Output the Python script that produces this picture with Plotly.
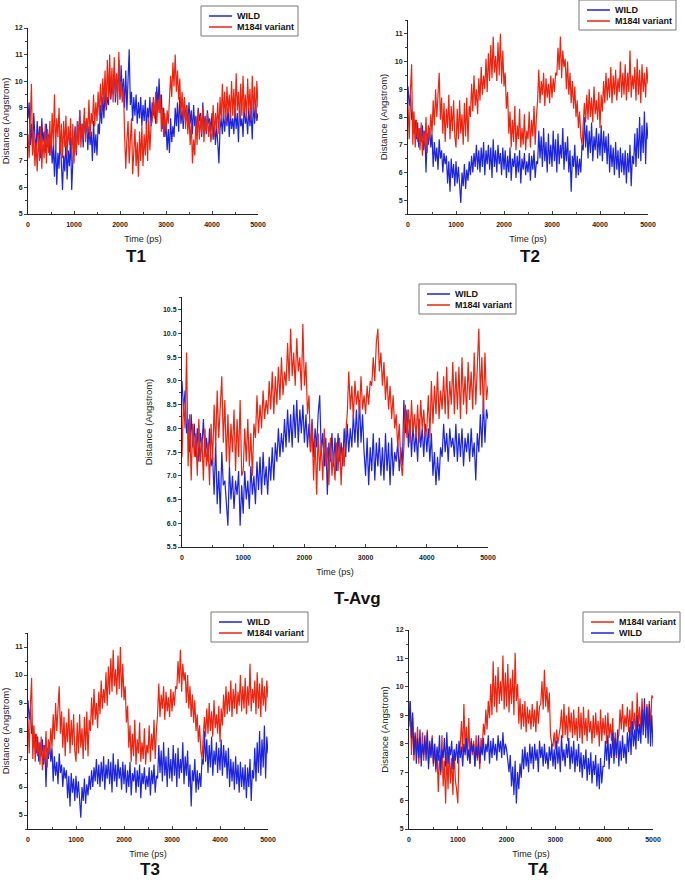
import plotly.graph_objects as go

# sampled every 25 ps, 0..5000
time_ps = list(range(0, 5001, 25))

t1_wild = [8.6, 9.2, 7.6, 8.4, 7.3, 8.8, 7.9, 7.4, 8.5, 7.6, 8.3, 7.1, 8.6, 7.7, 8.1, 7.3, 8.4, 7.5, 8.0, 7.2,
           7.9, 6.9, 7.6, 6.4, 7.8, 6.1, 7.3, 6.7, 8.0, 6.5, 5.9, 7.2, 6.6, 7.8, 6.3, 7.4, 6.8, 7.9, 5.9, 7.0,
           7.7, 8.3, 7.2, 8.5, 7.6, 8.9, 7.8, 8.4, 7.5, 8.7, 8.0, 8.6, 7.4, 8.3, 7.6, 8.1, 7.0, 8.5, 7.3, 8.0,
           7.2, 8.4, 8.0, 9.1, 8.4, 9.4, 8.6, 9.7, 8.9, 9.4, 9.1, 10.2, 9.3, 9.9, 9.5, 10.5, 9.2, 10.1, 9.6, 10.8,
           9.3, 10.6, 9.4, 10.1, 9.0, 10.4, 8.9, 9.8, 11.2, 9.1, 9.6, 8.5, 9.4, 8.7, 9.5, 8.4, 9.2, 8.6, 9.4, 8.3,
           9.1, 8.5, 9.3, 8.2, 9.0, 8.6, 9.4, 8.3, 9.2, 8.7, 9.0, 8.4, 9.8, 9.0, 10.1, 8.8, 9.5, 8.2, 9.0, 7.9,
           8.4, 7.4, 8.2, 7.3, 8.6, 7.7, 8.3, 7.9, 9.0, 8.3, 9.2, 8.1, 9.4, 8.4, 8.9, 8.2, 9.3, 8.5, 9.1, 8.3,
           9.2, 8.4, 8.9, 8.0, 9.1, 8.3, 8.7, 8.1, 9.0, 8.5, 8.8, 7.9, 9.2, 8.2, 8.7, 8.0, 8.9, 8.4, 8.6, 8.1,
           8.8, 7.8, 8.5, 7.6, 8.3, 7.7, 6.9, 8.2, 8.6, 8.0, 8.9, 8.1, 8.7, 8.3, 9.0, 7.9, 8.8, 8.2, 8.6, 8.0,
           9.0, 8.2, 8.8, 7.7, 9.1, 8.3, 8.6, 7.9, 9.2, 8.4, 8.7, 8.0, 9.0, 8.3, 8.9, 7.8, 9.3, 8.4, 9.1, 8.5,
           8.8]
t1_m184i = [8.0, 7.1, 8.6, 9.9, 7.2, 8.1, 6.8, 7.7, 6.6, 8.0, 7.0, 8.3, 6.7, 7.8, 7.1, 8.4, 6.9, 8.2, 7.3, 8.5,
            7.2, 8.8, 7.6, 9.5, 7.4, 8.6, 7.9, 9.0, 7.3, 8.4, 7.1, 8.5, 7.5, 8.7, 7.2, 8.3, 7.6, 8.6, 7.0, 8.4,
            6.9, 8.2, 7.3, 8.5, 7.6, 8.9, 7.5, 8.4, 7.8, 9.0, 7.7, 8.6, 8.1, 9.3, 7.9, 8.8, 8.4, 9.5, 8.3, 9.2,
            8.5, 9.6, 8.7, 9.9, 8.8, 10.1, 9.2, 10.4, 9.0, 10.8, 9.3, 11.0, 9.4, 10.5, 9.2, 10.9, 9.5, 10.3, 9.1, 11.1,
            9.4, 10.0, 9.2, 9.8, 8.0, 6.7, 7.8, 8.5, 6.9, 7.6, 8.6, 6.5, 7.4, 8.2, 6.8, 7.7, 6.4, 8.1, 7.0, 8.3,
            6.8, 8.0, 7.2, 8.4, 7.0, 8.6, 7.4, 8.3, 8.5, 9.4, 8.6, 9.6, 8.4, 9.3, 8.8, 9.5, 8.1, 9.0, 7.9, 8.8,
            8.1, 8.9, 8.4, 9.6, 10.2, 9.4, 10.7, 9.8, 11.0, 9.6, 10.4, 9.3, 10.1, 8.7, 9.6, 8.5, 9.4, 8.2, 9.1, 8.0,
            8.8, 7.6, 8.5, 6.9, 7.8, 7.2, 8.6, 7.6, 8.9, 7.8, 8.7, 8.0, 9.0, 7.7, 8.6, 8.1, 8.8, 7.9, 8.5, 7.7,
            8.1, 9.1, 7.9, 8.8, 8.2, 9.2, 8.0, 9.4, 8.5, 9.9, 8.6, 9.6, 8.4, 9.8, 8.8, 9.5, 8.6, 10.0, 8.7, 9.7,
            8.6, 10.3, 8.9, 9.6, 8.5, 9.9, 8.7, 10.2, 8.8, 9.5, 8.6, 10.1, 8.9, 9.7, 8.5, 10.2, 8.8, 9.8, 8.6, 10.0,
            9.0]

t2_wild = [9.1, 8.4, 8.8, 7.9, 8.2, 7.4, 7.9, 7.2, 7.8, 6.9, 7.6, 7.1, 7.7, 6.8, 7.5, 6.0, 7.4, 7.0, 7.6, 6.9,
           7.4, 6.2, 7.1, 6.4, 6.9, 6.1, 7.2, 6.5, 6.8, 6.0, 6.7, 6.3, 6.6, 5.6, 6.4, 5.3, 6.5, 5.8, 6.3, 5.5,
           6.4, 5.6, 6.2, 5.3, 4.9, 6.0, 5.5, 6.3, 5.4, 6.1, 5.7, 6.4, 5.9, 6.6, 6.0, 6.7, 6.2, 7.0, 6.1, 6.8,
           6.0, 6.9, 6.2, 7.1, 5.9, 6.8, 6.3, 7.0, 6.1, 6.9, 5.8, 7.2, 6.2, 6.8, 6.0, 7.0, 6.3, 6.7, 5.9, 6.9,
           6.1, 6.8, 5.8, 6.6, 6.0, 6.9, 5.7, 6.5, 6.2, 6.7, 5.8, 6.6, 6.0, 6.8, 5.6, 6.5, 6.1, 6.7, 5.9, 6.4,
           6.0, 6.7, 5.7, 6.6, 6.1, 6.8, 5.8, 6.4, 6.3, 7.5, 6.5, 7.3, 6.2, 7.6, 6.4, 7.1, 6.0, 7.4, 6.3, 7.0,
           6.2, 7.5, 6.4, 7.2, 6.0, 7.4, 6.3, 7.0, 6.5, 7.6, 6.1, 7.1, 6.4, 7.3, 6.0, 6.8, 5.3, 6.6, 6.2, 7.0,
           5.8, 6.6, 5.9, 6.5, 6.0, 7.0, 6.8, 8.0, 6.9, 7.7, 6.5, 7.5, 6.7, 7.8, 6.4, 7.3, 6.8, 7.6, 6.5, 7.4,
           6.6, 7.7, 6.4, 7.5, 6.7, 7.3, 6.3, 7.4, 6.0, 7.0, 6.2, 6.9, 5.9, 7.1, 6.1, 6.8, 5.8, 6.9, 6.0, 6.7,
           5.9, 6.8, 5.6, 6.7, 6.0, 7.0, 5.5, 6.6, 6.3, 7.4, 6.2, 7.6, 6.5, 8.0, 6.4, 7.7, 6.7, 8.2, 6.3, 7.8,
           7.2]
t2_m184i = [8.4, 7.2, 8.9, 9.9, 7.0, 8.2, 6.9, 7.9, 7.1, 7.6, 6.8, 7.8, 6.6, 7.5, 7.0, 8.0, 6.7, 7.7, 7.2, 8.1,
            7.4, 8.6, 7.7, 9.0, 8.0, 8.8, 9.6, 7.9, 8.7, 7.4, 8.5, 7.1, 8.3, 7.6, 8.8, 7.2, 8.4, 7.5, 8.6, 7.3,
            6.9, 8.3, 7.2, 8.6, 7.4, 8.1, 7.0, 8.5, 7.3, 8.7, 7.1, 8.4, 8.0, 9.2, 8.2, 9.5, 8.4, 9.0, 8.1, 9.4,
            8.6, 9.8, 8.8, 9.5, 9.0, 10.1, 8.9, 10.3, 9.3, 10.6, 9.4, 10.9, 9.6, 10.2, 9.3, 10.7, 9.5, 11.0, 9.2, 10.4,
            9.1, 9.6, 8.3, 8.9, 7.4, 8.2, 6.9, 7.9, 7.1, 8.4, 6.8, 7.7, 7.2, 8.3, 6.9, 7.6, 7.0, 8.1, 6.8, 7.5,
            7.2, 8.2, 6.9, 7.9, 7.3, 8.4, 7.0, 8.0, 8.6, 9.7, 8.5, 9.3, 8.8, 9.6, 8.4, 9.4, 8.7, 9.2, 8.5, 9.5,
            8.7, 9.4, 8.9, 9.6, 9.5, 10.5, 9.7, 10.9, 9.4, 10.4, 9.8, 10.1, 9.0, 10.0, 8.8, 9.6, 8.5, 9.3, 8.3, 9.1,
            8.0, 8.6, 7.6, 8.2, 7.3, 7.0, 7.6, 8.5, 7.8, 8.8, 7.9, 9.0, 8.0, 8.7, 7.8, 9.1, 8.1, 8.6, 7.9, 8.9,
            7.6, 8.8, 8.2, 9.3, 8.5, 9.6, 8.6, 9.4, 8.7, 9.8, 8.5, 9.5, 8.8, 9.7, 8.6, 9.4, 8.9, 10.0, 8.7, 9.6,
            8.8, 9.9, 8.6, 9.6, 8.9, 10.4, 8.7, 9.5, 9.0, 9.8, 8.6, 10.1, 8.8, 9.7, 8.5, 9.9, 8.9, 9.6, 8.7, 9.8,
            9.2]

tavg_wild = [9.0, 8.4, 8.8, 7.9, 8.2, 7.5, 8.3, 7.6, 8.1, 7.4, 8.0, 7.3, 7.9, 7.6, 8.2, 7.4, 7.8, 7.3, 8.0, 7.2,
             7.4, 6.6, 7.7, 6.4, 7.1, 6.2, 7.5, 6.8, 6.9, 6.4, 5.95, 7.2, 6.5, 7.0, 6.3, 6.9, 6.6, 7.1, 5.95, 6.8,
             6.2, 7.1, 6.5, 6.9, 6.3, 7.2, 6.6, 7.0, 6.4, 7.3, 6.7, 7.4, 6.6, 7.5, 6.8, 7.2, 6.6, 7.4, 6.9, 7.6,
             6.9, 7.7, 7.3, 8.0, 7.4, 7.9, 7.5, 8.2, 7.6, 8.4, 7.7, 8.3, 7.6, 8.5, 7.8, 8.6, 7.7, 8.4, 7.9, 8.5,
             7.7, 8.3, 7.6, 8.1, 7.5, 8.2, 7.4, 8.0, 7.6, 8.3, 8.7, 7.5, 7.9, 7.2, 7.8, 6.6, 7.7, 7.3, 7.9, 7.2,
             7.8, 7.1, 7.9, 7.3, 7.7, 7.2, 8.0, 7.4, 8.1, 7.5, 8.0, 7.6, 8.3, 7.7, 8.4, 7.6, 8.6, 7.7, 8.3, 7.5,
             7.0, 7.8, 6.8, 7.6, 7.1, 7.9, 6.9, 7.7, 7.2, 7.8, 7.0, 7.6, 6.9, 7.9, 7.1, 7.7, 6.8, 7.8, 7.0, 7.5,
             7.3, 7.7, 7.1, 7.6, 7.2, 8.6, 7.9, 8.4, 7.6, 8.2, 7.4, 8.1, 7.5, 7.9, 7.3, 8.2, 7.6, 8.0, 7.4, 8.1,
             7.5, 8.0, 7.3, 7.9, 7.0, 7.5, 6.8, 7.4, 6.9, 7.6, 7.4, 8.1, 7.5, 7.9, 7.3, 8.0, 7.6, 7.8, 7.4, 8.1,
             7.3, 7.9, 7.4, 8.0, 7.2, 7.8, 7.5, 7.9, 7.3, 8.0, 7.4, 7.7, 6.9, 7.9, 7.5, 8.3, 7.6, 8.6, 7.7, 8.4,
             8.2]
tavg_m184i = [7.4, 8.6, 8.0, 9.6, 7.2, 8.3, 6.9, 8.1, 7.4, 7.9, 7.0, 8.2, 7.3, 7.8, 6.9, 8.0, 7.2, 7.7, 6.8, 8.1,
              7.3, 8.5, 7.6, 8.8, 7.8, 8.4, 9.1, 7.7, 8.6, 7.3, 8.3, 7.2, 8.1, 7.5, 8.4, 7.1, 8.2, 7.4, 8.6, 7.0,
              7.1, 8.0, 7.3, 8.2, 7.2, 7.9, 7.0, 8.1, 7.8, 8.7, 7.9, 8.5, 8.0, 8.8, 8.2, 8.6, 8.3, 9.0, 8.4, 9.2,
              8.3, 9.1, 8.5, 9.3, 8.6, 9.5, 8.7, 9.2, 8.9, 9.8, 9.0, 10.1, 9.1, 9.6, 8.9, 9.9, 9.2, 9.5, 8.8, 10.2,
              8.9, 9.4, 8.3, 8.7, 7.5, 8.1, 6.9, 7.8, 6.6, 7.9, 7.1, 7.7, 6.9, 8.0, 7.2, 7.6, 6.8, 7.8, 7.0, 7.5,
              6.9, 7.7, 7.1, 7.8, 6.8, 7.6, 7.2, 7.9, 8.3, 9.2, 8.4, 8.9, 8.2, 9.0, 8.5, 8.8, 8.3, 9.1, 8.4, 8.7,
              8.3, 8.9, 8.5, 9.0, 8.9, 9.5, 9.0, 9.8, 10.1, 9.2, 9.6, 8.9, 9.4, 8.6, 9.1, 8.4, 8.9, 8.2, 8.7, 8.0,
              8.3, 7.6, 8.1, 7.3, 7.0, 7.6, 8.5, 7.8, 8.4, 7.7, 8.6, 7.9, 8.3, 7.8, 8.5, 7.7, 8.6, 8.0, 8.4, 7.8,
              8.0, 8.7, 7.8, 9.0, 8.1, 8.9, 8.3, 9.2, 8.2, 8.8, 8.4, 9.1, 8.3, 9.3, 8.2, 9.0, 8.5, 9.4, 8.3, 9.2,
              8.4, 9.3, 8.2, 9.5, 8.5, 9.1, 8.3, 9.4, 8.6, 9.2, 8.4, 9.6, 8.5, 9.3, 10.1, 8.7, 9.5, 8.3, 9.6, 8.6,
              8.9]

# T3 is the same trajectory pair as T2 in the source figure
t3_wild = list(t2_wild)
t3_m184i = list(t2_m184i)

t4_m184i = [8.6, 9.5, 7.6, 8.9, 7.4, 8.3, 7.8, 8.6, 7.3, 8.2, 7.5, 8.4, 7.4, 8.1, 7.7, 8.5, 7.3, 8.0, 7.6, 8.3,
            7.2, 8.0, 7.0, 7.8, 6.3, 7.6, 6.9, 8.3, 6.5, 7.4, 5.9, 7.7, 6.4, 7.9, 6.6, 7.5, 6.2, 7.8, 6.7, 6.4,
            5.9, 7.6, 7.9, 8.8, 7.7, 9.4, 7.8, 8.6, 7.5, 8.9, 7.3, 8.2, 7.6, 8.1, 7.2, 8.3, 7.4, 8.0, 7.1, 8.2,
            7.8, 8.7, 8.3, 9.2, 8.5, 9.5, 8.9, 10.1, 9.0, 10.9, 9.3, 10.4, 9.1, 10.7, 9.4, 10.2, 9.5, 11.1, 9.2, 10.5,
            9.3, 10.8, 9.1, 10.3, 9.4, 10.6, 9.0, 11.2, 9.5, 10.1, 8.7, 9.6, 8.5, 9.4, 8.6, 9.5, 8.4, 9.3, 8.7, 9.2,
            8.5, 9.4, 8.6, 9.2, 8.4, 9.5, 8.7, 9.3, 9.4, 10.2, 9.2, 10.6, 9.3, 10.0, 9.1, 9.8, 8.3, 8.0, 7.9, 8.4,
            7.8, 8.5, 8.0, 8.3, 8.6, 9.2, 8.2, 9.4, 8.3, 9.0, 8.1, 9.3, 8.4, 9.1, 8.2, 9.2, 8.3, 8.9, 8.1, 9.3,
            8.2, 9.1, 8.0, 9.3, 8.3, 8.9, 8.1, 9.2, 8.4, 8.8, 8.0, 9.0, 8.2, 9.1, 8.3, 8.8, 7.9, 9.2, 8.1, 8.9,
            8.3, 9.0, 8.0, 9.1, 8.2, 8.7, 8.1, 8.9, 7.6, 8.4, 7.5, 8.2, 8.3, 9.2, 8.5, 9.4, 8.4, 9.0, 8.6, 9.3,
            8.4, 9.2, 8.3, 9.5, 8.5, 9.1, 8.2, 9.8, 8.6, 9.3, 8.4, 9.6, 8.7, 9.2, 8.5, 9.4, 8.6, 9.5, 8.5, 9.7,
            9.6]
t4_wild = [8.8, 9.5, 8.2, 9.1, 7.6, 8.4, 7.3, 8.2, 7.5, 8.5, 7.2, 8.0, 7.6, 8.3, 7.4, 8.4, 7.1, 8.1, 7.5, 8.2,
           7.3, 8.0, 7.1, 7.9, 7.4, 8.3, 7.0, 7.8, 7.5, 8.2, 7.2, 8.4, 7.3, 7.9, 7.6, 8.1, 7.1, 7.8, 7.4, 8.0,
           7.3, 8.1, 7.5, 7.9, 7.2, 8.0, 7.6, 8.2, 7.4, 7.8, 7.3, 8.1, 7.7, 8.0, 7.2, 7.9, 7.5, 8.3, 7.3, 7.9,
           7.6, 8.2, 7.4, 8.0, 7.7, 8.3, 7.3, 8.1, 7.5, 8.2, 7.6, 8.0, 7.4, 8.3, 7.7, 8.1, 7.5, 8.4, 7.6, 8.0,
           7.8, 7.4, 7.0, 7.6, 6.5, 7.2, 6.2, 7.4, 5.9, 7.0, 6.4, 7.3, 6.8, 7.8, 7.1, 7.9, 7.2, 7.7, 7.0, 8.0,
           7.3, 7.9, 7.1, 8.0, 7.4, 7.8, 7.0, 8.1, 7.5, 7.9, 7.2, 8.0, 7.3, 7.7, 7.1, 7.9, 7.4, 8.0, 7.2, 7.8,
           7.1, 8.1, 7.3, 7.9, 7.0, 8.3, 7.4, 7.8, 7.2, 8.0, 7.5, 8.2, 7.1, 7.9, 7.3, 8.1, 7.0, 7.8, 7.2, 8.0,
           7.0, 7.7, 6.8, 7.6, 7.1, 7.8, 6.7, 7.5, 6.9, 7.7, 6.6, 7.4, 6.9, 7.6, 6.5, 7.3, 6.4, 7.5, 6.6, 7.2,
           7.2, 8.1, 7.4, 8.3, 7.1, 8.0, 7.5, 8.4, 7.3, 8.2, 7.6, 8.5, 7.2, 8.1, 7.4, 8.3, 7.5, 8.0, 7.3, 8.4,
           7.7, 8.6, 7.6, 8.8, 7.9, 8.5, 7.8, 9.0, 8.1, 8.7, 8.0, 9.2, 8.3, 9.6, 8.2, 9.3, 8.0, 9.4, 7.9, 9.0,
           7.9]

panel_names = ["T1", "T2", "T-Avg", "T3", "T4"]

for arr in (t1_wild, t1_m184i, t2_wild, t2_m184i, tavg_wild, tavg_m184i,
            t4_wild, t4_m184i):
    assert len(arr) == len(time_ps), len(arr)

BLUE = "#1c24dc"
RED = "#ec2410"
FONT = "Liberation Sans, Arial, sans-serif"
W, H = 685, 880

# pixel boxes (left, right, top, bottom) of each plot area
panels = [
    dict(box=(28, 258, 28, 214), yr=[5, 12], dt=1, fmt="d",
         traces=[("WILD", t1_wild, BLUE), ("M184I variant", t1_m184i, RED)],
         leg=(201, 6), lab=(136, 256), ysd=4),
    dict(box=(408, 648, 20, 214), yr=[4.5, 11.5], dt=1, fmt="d",
         traces=[("WILD", t2_wild, BLUE), ("M184I variant", t2_m184i, RED)],
         leg=(579, 0), lab=(530, 256), ysd=5),
    dict(box=(182, 488, 297, 547), yr=[5.5, 10.77], dt=0.5, fmt=".1f",
         traces=[("WILD", tavg_wild, BLUE), ("M184I variant", tavg_m184i, RED)],
         leg=(419, 284), lab=(357, 598), ysd=8),
    dict(box=(28, 268, 633, 829), yr=[4.5, 11.5], dt=1, fmt="d",
         traces=[("WILD", t3_wild, BLUE), ("M184I variant", t3_m184i, RED)],
         leg=(211, 612), lab=(150, 869), ysd=4),
    dict(box=(409, 653, 630, 829), yr=[5, 12], dt=1, fmt="d",
         traces=[("M184I variant", t4_m184i, RED), ("WILD", t4_wild, BLUE)],
         leg=(583, 612), lab=(538, 869), ysd=5),
]

fig = go.Figure()
layout = dict(
    width=W, height=H, margin=dict(l=0, r=0, t=0, b=0),
    paper_bgcolor="white", plot_bgcolor="white", showlegend=False,
    font=dict(family=FONT, color="black"),
    annotations=[], shapes=[],
)

tick_font = dict(family=FONT, size=7, color="#222", weight="bold")
for i, (p, name) in enumerate(zip(panels, panel_names)):
    n = "" if i == 0 else str(i + 1)
    l, r, t, b = p["box"]
    for tname, vals, col in p["traces"]:
        fig.add_trace(go.Scatter(
            x=time_ps, y=vals, mode="lines", name=tname,
            line=dict(color=col, width=1.2),
            xaxis="x" + n, yaxis="y" + n,
        ))
    layout["xaxis" + n] = dict(
        domain=[l / W, r / W], anchor="y" + n, range=[0, 5000],
        dtick=1000, tick0=0, ticks="inside", ticklen=3, tickwidth=1,
        minor=dict(ticks="inside", ticklen=2, dtick=500),
        showline=True, linecolor="#222", linewidth=1, showgrid=False,
        zeroline=False, tickfont=tick_font, automargin=False,
        ticklabelstandoff=4,
        title=dict(text="Time (ps)", font=dict(family=FONT, size=9, color="#222"),
                   standoff=8),
    )
    layout["yaxis" + n] = dict(
        domain=[1 - b / H, 1 - t / H], anchor="x" + n, range=p["yr"],
        dtick=p["dt"], tick0=0, tickformat=p["fmt"], ticks="outside",
        ticklen=3, tickwidth=1,
        minor=dict(ticks="outside", ticklen=2, dtick=p["dt"] / 2),
        showline=True, linecolor="#222", linewidth=1, showgrid=False,
        zeroline=False, tickfont=tick_font, automargin=False,
        title=dict(text="Distance (Angstrom)",
                   font=dict(family=FONT, size=9.5, color="#222"),
                   standoff=p["ysd"]),
    )

    # boxed legend in the top-right corner of each panel
    lx, ly = p["leg"]
    layout["shapes"].append(dict(
        type="rect", xref="paper", yref="paper",
        x0=lx / W, x1=(lx + 97) / W, y0=1 - (ly + 30) / H, y1=1 - ly / H,
        line=dict(color="#777", width=1), fillcolor="white", layer="above",
    ))
    for k, (tname, _, col) in enumerate(p["traces"]):
        ry = 1 - (ly + 10 + 11 * k) / H
        layout["shapes"].append(dict(
            type="line", xref="paper", yref="paper",
            x0=(lx + 8) / W, x1=(lx + 31) / W, y0=ry, y1=ry,
            line=dict(color=col, width=1.5), layer="above",
        ))
        layout["annotations"].append(dict(
            text=tname, x=(lx + 34) / W, y=ry, xref="paper", yref="paper",
            showarrow=False, xanchor="left", yanchor="middle",
            font=dict(family=FONT, size=9, color="#111", weight="bold"),
        ))

    cx, cy = p["lab"]
    layout["annotations"].append(dict(
        text=name, x=cx / W, y=1 - cy / H, xref="paper", yref="paper",
        showarrow=False, xanchor="center", yanchor="middle",
        font=dict(family=FONT, size=17, color="#111", weight="bold"),
    ))

fig.update_layout(**layout)
# drop the default 8px page margin so the figure sits at the window origin
fig.write_html("out.html", config={"displayModeBar": False},
               post_script="document.body.style.margin='0';document.body.style.overflow='hidden';")
